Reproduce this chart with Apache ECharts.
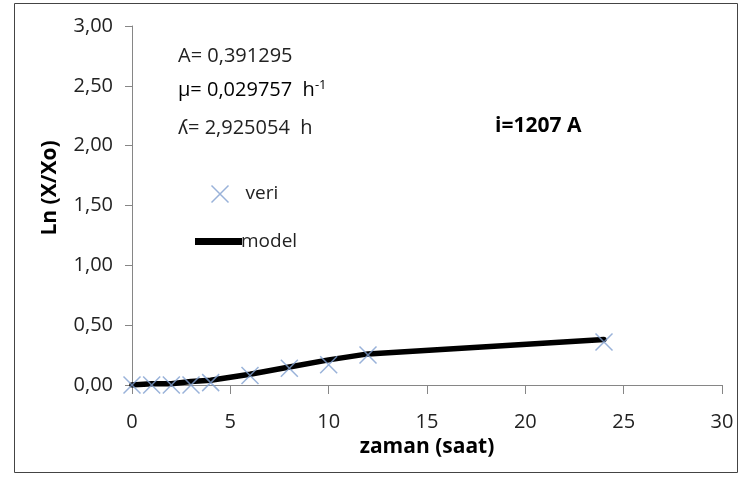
<!DOCTYPE html>
<html><head><meta charset="utf-8">
<script src="https://cdn.jsdelivr.net/npm/echarts@6/dist/echarts.min.js"></script>
<style>html,body{margin:0;padding:0;background:#fff}#c{width:746px;height:479px}</style>
</head><body><div id="c"></div>
<script>
var timeHours = [0, 1, 2, 3, 4, 6, 8, 10, 12, 24];
var veriValues = [0.00, 0.00, 0.00, 0.00, 0.02, 0.08, 0.14, 0.17, 0.25, 0.36];
var modelValues = [0.00, 0.01, 0.01, 0.03, 0.04, 0.09, 0.15, 0.21, 0.26, 0.38];
var xTicks = [0, 5, 10, 15, 20, 25, 30];
var yTicks = [0, 0.5, 1, 1.5, 2, 2.5, 3];

var FONT = '"Open Sans", sans-serif';
var crossPath = 'path://M0,0L10,10M10,0L0,10';
function pairs(xs, ys){ return xs.map(function(x,i){ return [x, ys[i]]; }); }

var chart = echarts.init(document.getElementById('c'), null, {renderer:'canvas'});
chart.setOption({
  animation:false,
  backgroundColor:'#fff',
  textStyle:{fontFamily:FONT},
  grid:{left:132, right:24, top:26, bottom:94},
  xAxis:{type:'value', min:xTicks[0], max:xTicks[xTicks.length-1], interval:5,
    name:'zaman (saat)', nameLocation:'middle', nameGap:48,
    nameTextStyle:{fontFamily:FONT, fontWeight:'bold', fontSize:21, color:'#000'},
    axisLine:{lineStyle:{color:'#868686', width:1}},
    axisTick:{show:true, length:9, inside:false, lineStyle:{color:'#868686'}},
    axisLabel:{fontFamily:FONT, fontSize:20, color:'#222', margin:27},
    splitLine:{show:false}},
  yAxis:{type:'value', min:yTicks[0], max:yTicks[yTicks.length-1], interval:0.5,
    axisLine:{show:true, lineStyle:{color:'#868686', width:1}},
    axisTick:{show:true, length:7, lineStyle:{color:'#868686'}},
    axisLabel:{fontFamily:FONT, fontSize:20, color:'#222', margin:19,
      formatter:function(v){ return v.toFixed(2).replace('.', ','); }},
    splitLine:{show:false}},
  legend:[
    {orient:'vertical', left:204, top:178, itemWidth:17, itemHeight:17, itemGap:10,
     textStyle:{fontFamily:FONT, fontSize:19, color:'#222', padding:[0,0,0,12]},
     data:[{name:'veri', icon:crossPath, itemStyle:{color:'none', borderColor:'#7f9fcf', borderWidth:1.5}}]},
    {orient:'vertical', left:190, top:227, itemWidth:47, itemHeight:7,
     textStyle:{fontFamily:FONT, fontSize:19, color:'#222', padding:[0,0,0,-6]},
     data:[{name:'model', icon:'rect', itemStyle:{color:'#000'}}]}
  ],
  series:[
    {name:'model', type:'line', data:pairs(timeHours, modelValues), symbol:'none',
     smooth:false, lineStyle:{color:'#000', width:5.5, join:'round', cap:'round'}, itemStyle:{color:'#000'}, z:2},
    {name:'veri', type:'scatter', data:pairs(timeHours, veriValues), symbol:crossPath,
     symbolSize:17, itemStyle:{color:'none', borderColor:'#7f9fcf', borderWidth:1.5}, z:3}
  ],
  graphic:[
    {type:'rect', shape:{x:14.5, y:3.5, width:723, height:469}, style:{fill:'none', stroke:'#444', lineWidth:1}, silent:true},
    {type:'text', x:50, y:188, rotation:Math.PI/2, style:{text:'Ln (X/Xo)', font:'bold 21px '+FONT, fill:'#000', textAlign:'center', textVerticalAlign:'middle'}},
    {type:'text', x:178, y:56, style:{text:'A= 0,391295', font:'20px '+FONT, fill:'#222', textVerticalAlign:'middle'}},
    {type:'text', x:178, y:90, style:{text:'{a|μ= 0,029757  h}{s|-1}', textVerticalAlign:'middle', rich:{a:{fontSize:20, fontFamily:FONT, color:'#222'}, s:{fontSize:13, fontFamily:FONT, color:'#222', verticalAlign:'top', padding:[0,0,10,0]}}}},
    {type:'text', x:178, y:128, style:{text:'ʎ= 2,925054  h', font:'20px '+FONT, fill:'#222', textVerticalAlign:'middle'}},
    {type:'text', x:495, y:126, style:{text:'i=1207 A', font:'bold 21px '+FONT, fill:'#000', textVerticalAlign:'middle'}}
  ]
});
</script></body></html>
